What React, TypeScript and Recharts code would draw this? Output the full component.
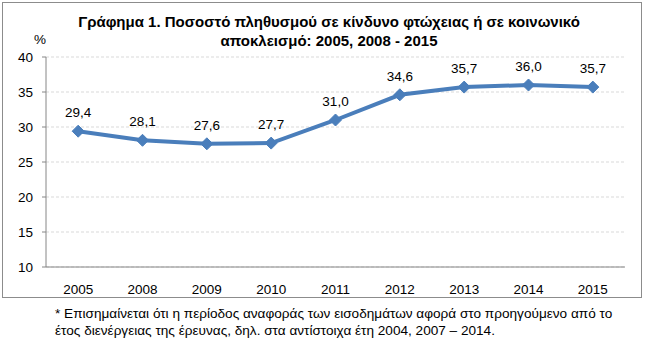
import React from "react";
import { LineChart, Line, XAxis, YAxis, CartesianGrid, LabelList } from "recharts";

const years = ["2005", "2008", "2009", "2010", "2011", "2012", "2013", "2014", "2015"];
const rates = [29.4, 28.1, 27.6, 27.7, 31.0, 34.6, 35.7, 36.0, 35.7];
const yTicks = [10, 15, 20, 25, 30, 35, 40];
const boundaryTicks = [0, 1, 2, 3, 4, 5, 6, 7, 8, 9];

const titleLine1 = "Γράφημα 1. Ποσοστό πληθυσμού σε κίνδυνο φτώχειας ή σε κοινωνικό";
const titleLine2 = "αποκλεισμό: 2005, 2008 - 2015";
const footLine1 = "* Επισημαίνεται ότι η περίοδος αναφοράς των εισοδημάτων αφορά στο προηγούμενο από το";
const footLine2 = "έτος διενέργειας της έρευνας, δηλ. στα αντίστοιχα έτη 2004, 2007 \u2013 2014.";

const data = years.map((y, i) => ({ year: y, value: rates[i] }));

const FONT = "'Liberation Sans', Arial, sans-serif";
const BLUE = "#4a7ebb";
const AXIS = "#868686";

const Diamond = (props: any) => {
  const { cx, cy } = props;
  if (cx == null || cy == null) return null;
  const r = 6;
  return (
    <path
      d={`M${cx},${cy - r} L${cx + r},${cy} L${cx},${cy + r} L${cx - r},${cy} Z`}
      fill={BLUE}
      stroke={BLUE}
      strokeWidth={1}
    />
  );
};

const fmt = (v: any) => Number(v).toFixed(1).replace(".", ",");

export default function App() {
  return (
    <div style={{ position: "absolute", left: 0, top: 0, width: 646, height: 352, background: "#fff", fontFamily: FONT }}>
      <div
        style={{
          position: "absolute",
          left: 2,
          top: 2,
          width: 640,
          height: 296,
          border: "1px solid #8c8c8c",
          boxSizing: "border-box",
        }}
      />
      <div
        style={{
          position: "absolute",
          left: 0,
          top: 12,
          width: 658,
          textAlign: "center",
          fontWeight: "bold",
          fontSize: 15,
          lineHeight: "19px",
          color: "#000",
        }}
      >
        <div>{titleLine1}</div>
        <div>{titleLine2}</div>
      </div>
      <div style={{ position: "absolute", left: 34, top: 32, fontSize: 13.5, color: "#000" }}>%</div>
      <div style={{ position: "absolute", left: 0, top: 0 }}>
        <LineChart width={646} height={352} data={data} margin={{ top: 57, right: 21, bottom: 50, left: 0 }}>
          <CartesianGrid vertical={false} stroke="#d9d9d9" strokeDasharray="3 2" />
          <XAxis
            xAxisId="bnd"
            type="number"
            domain={[0, 9]}
            ticks={boundaryTicks}
            tick={false}
            tickSize={4}
            height={5}
            stroke={AXIS}
            axisLine={{ stroke: AXIS }}
            tickLine={{ stroke: AXIS }}
          />
          <XAxis
            xAxisId="cat"
            dataKey="year"
            type="category"
            scale="band"
            axisLine={false}
            tickLine={false}
            height={30}
            tickSize={0}
            tickMargin={12}
            tick={{ fill: "#000", fontSize: 13.5, fontFamily: FONT }}
          />
          <YAxis
            domain={[10, 40]}
            ticks={yTicks}
            interval={0}
            width={46}
            tickSize={4}
            tickMargin={9}
            stroke={AXIS}
            tick={{ fill: "#000", fontSize: 13.5, fontFamily: FONT }}
          />
          <Line
            xAxisId="cat"
            dataKey="value"
            stroke={BLUE}
            strokeWidth={4}
            dot={<Diamond />}
            activeDot={false}
            isAnimationActive={false}
          >
            <LabelList
              dataKey="value"
              position="top"
              offset={14}
              formatter={fmt}
              style={{ fill: "#000", fontSize: 13.5, fontFamily: FONT }}
            />
          </Line>
        </LineChart>
      </div>
      <div
        style={{
          position: "absolute",
          left: 55,
          top: 305,
          fontSize: 13.6,
          lineHeight: "17px",
          color: "#000",
        }}
      >
        <div>{footLine1}</div>
        <div>{footLine2}</div>
      </div>
    </div>
  );
}
